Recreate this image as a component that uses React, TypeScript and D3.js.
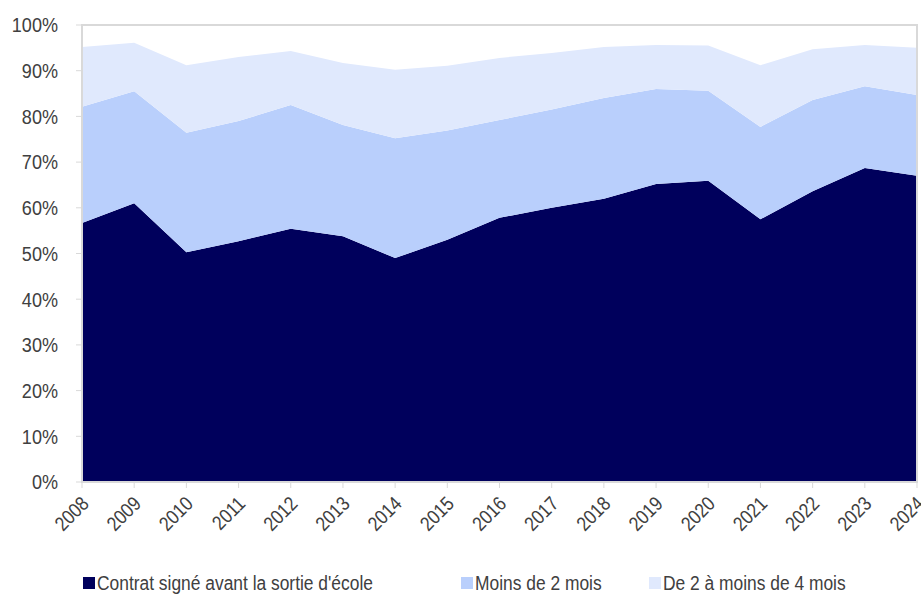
import React from "react";
import * as d3 from "d3";

const years = ["2008","2009","2010","2011","2012","2013","2014","2015","2016","2017","2018","2019","2020","2021","2022","2023","2024"];
const contratAvant = [56.7,61.0,50.3,52.7,55.4,53.8,49.0,53.0,57.8,60.0,62.0,65.2,65.9,57.5,63.6,68.7,67.0];
const moinsDe2 = [25.4,24.5,26.1,26.3,27.1,24.3,26.2,23.9,21.4,21.5,22.0,20.8,19.7,20.2,20.0,17.9,17.7];
const de2a4 = [13.1,10.6,14.8,14.0,11.8,13.6,15.0,14.2,13.6,12.4,11.2,9.6,9.9,13.5,11.1,9.0,10.3];
const yTicks = [0,10,20,30,40,50,60,70,80,90,100];
const seriesNames = ["Contrat signé avant la sortie d'école","Moins de 2 mois","De 2 à moins de 4 mois"];
const colors = ["#00005c","#b9cffc","#e0e9fd"];

export default function App() {
  const W = 921, H = 602;
  const left = 82, right = 917, top = 25, bottom = 482;
  const x = d3.scalePoint<string>().domain(years).range([left, right]);
  const y = d3.scaleLinear().domain([0, 100]).range([bottom, top]);
  const rows = years.map((yr, i) => ({ year: yr, a: contratAvant[i], b: moinsDe2[i], c: de2a4[i] }));
  const stack = d3.stack<any>().keys(["a","b","c"]);
  const layers = stack(rows);
  const area = d3.area<any>()
    .x((d) => x(d.data.year) as number)
    .y0((d) => y(d[0]))
    .y1((d) => y(d[1]));
  const font = "'Liberation Sans', Arial, sans-serif";
  const legendX = [82, 460, 648];
  const sx = 0.86;
  return (
    <svg width={W} height={H} style={{ position: "absolute", left: 0, top: 0, background: "#fff" }}>
      {layers.map((l, i) => (
        <path key={i} d={area(l) || ""} fill={colors[i]} />
      ))}
      <rect x={left} y={top} width={right - left} height={bottom - top} fill="none" stroke="#d9d9d9" strokeWidth={2} />
      {yTicks.map((t) => (
        <g key={t}>
          <line x1={left - 6} x2={left} y1={y(t)} y2={y(t)} stroke="#d9d9d9" strokeWidth={1} />
          <text transform={`translate(${left - 24},${y(t)}) scale(${sx},1)`} dy="0.35em" textAnchor="end" fontFamily={font} fontSize={21} fill="#404040">{t}%</text>
        </g>
      ))}
      {years.map((yr) => (
        <g key={yr}>
          <line x1={x(yr)} x2={x(yr)} y1={bottom} y2={bottom + 6} stroke="#d9d9d9" strokeWidth={1} />
          <text transform={`translate(${(x(yr) as number) + 3},${bottom + 18}) rotate(-45) scale(${sx},1)`} textAnchor="end" dy="0.35em" fontFamily={font} fontSize={20} fill="#404040">{yr}</text>
        </g>
      ))}
      {seriesNames.map((n, i) => (
        <g key={n}>
          <rect x={legendX[i] + 1} y={577} width={12} height={12} fill={colors[i]} />
          <text transform={`translate(${legendX[i] + 15},${583}) scale(0.87,1)`} dy="0.35em" fontFamily={font} fontSize={20} fill="#404040">{n}</text>
        </g>
      ))}
    </svg>
  );
}
